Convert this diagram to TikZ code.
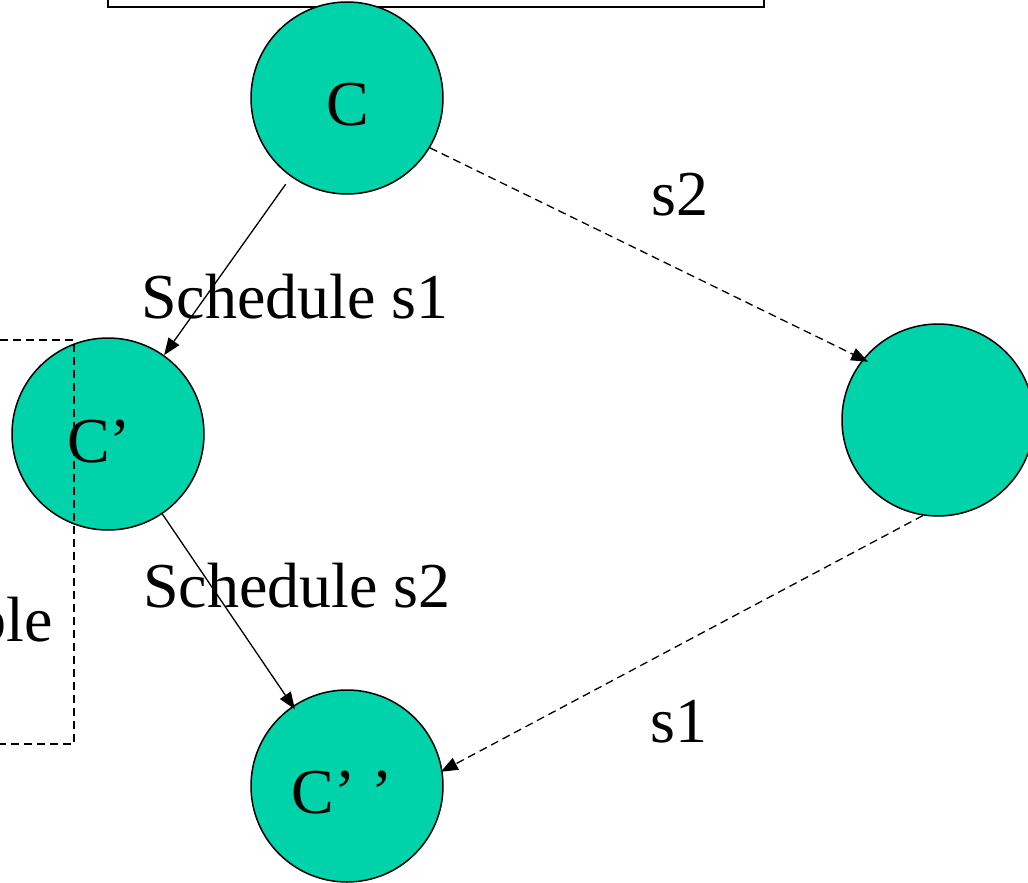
\documentclass[tikz,border=0pt]{standalone}
\usepackage{fontspec}
\setmainfont{Liberation Serif}
\usetikzlibrary{arrows.meta}
\definecolor{ballc}{RGB}{0,210,170}
\tikzset{
  ball/.style={circle, draw=black, line width=1.5pt, fill=ballc, minimum size=192pt, inner sep=0pt},
  lbl/.style={inner sep=0pt, font=\fontsize{64}{70}\selectfont},
  conn/.style={line width=1.3pt, -{Triangle[length=17pt,width=13pt]}},
  dconn/.style={conn, dash pattern=on 8pt off 5pt},
  dbox/.style={line width=1.3pt, dash pattern=on 8pt off 5pt},
}
\begin{document}
\begin{tikzpicture}[x=1pt,y=-1pt]
\useasboundingbox (0,0) rectangle (1028,883);
% top box (partly off picture)
\draw[line width=2pt] (108,-30) rectangle (764,7);
% circles
\node[ball] (C)  at (347,98)  {};
\node[ball] (C1) at (108,434) {};
\node[ball] (R)  at (938,420) {};
\node[ball] (C2) at (347,786) {};
% left dashed box (drawn over C')
\draw[dbox] (0,340) -- (74,340) -- (74,744) -- (0,744);
% circle labels
\node[lbl, anchor=base] (tC)  at (348,125) {C};
\node[lbl, anchor=base] (tC1) at (99,462)  {C’};
\node[lbl, anchor=base] (tC2) at (342,813) {C’ ’};
% edge labels
\node[lbl, anchor=base] (ls1) at (295,318) {Schedule s1};
\node[lbl, anchor=base] (ls2) at (297,607) {Schedule s2};
\node[lbl, anchor=base] (ts2) at (680,215) {s2};
\node[lbl, anchor=base] (ts1) at (679,742) {s1};
\node[lbl, anchor=base east] (tble) at (53,641) {ble};
% connectors
\draw[conn, shorten <=9pt] (C) -- (C1);
\draw[conn, shorten >=-4pt] (C1) -- (C2);
\draw[dconn, shorten >=-6pt] (C.-31) -- (R.141);
\draw[dconn, shorten >=-2pt] (R.-99) -- (C2.9);
\end{tikzpicture}
\end{document}
